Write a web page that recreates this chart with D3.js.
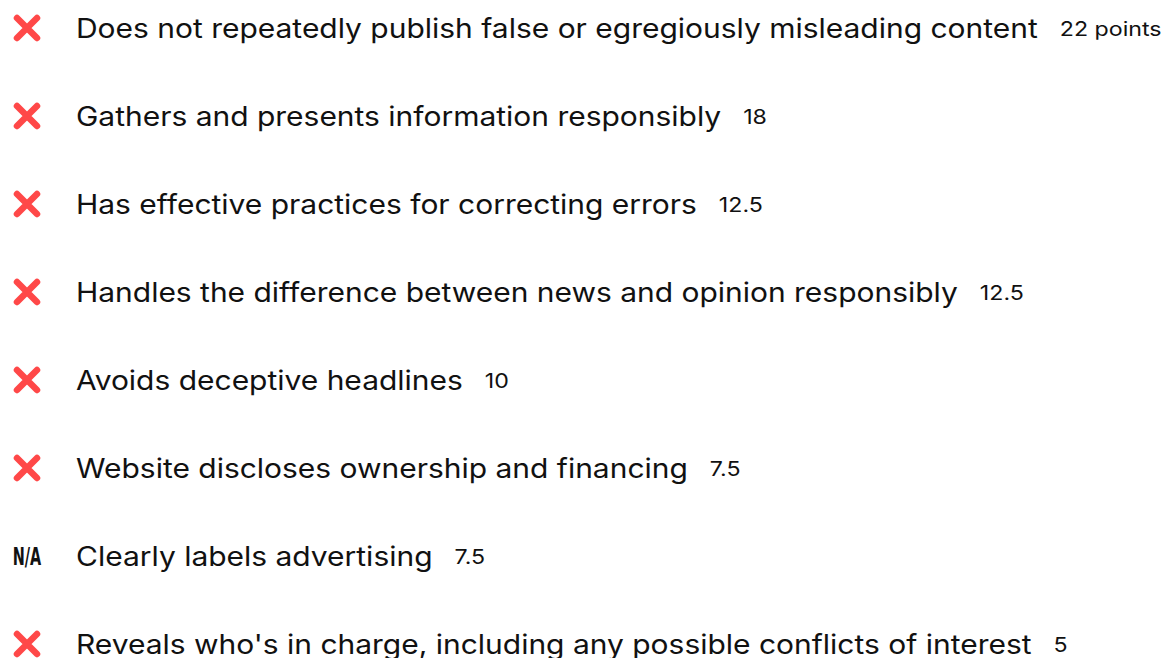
<!DOCTYPE html>
<html>
<head>
<meta charset="utf-8">
<script src="https://cdn.jsdelivr.net/npm/d3@7"></script>
<style>
  body { margin: 0; background: #fff; }
  svg { display: block; }
</style>
</head>
<body>
<svg width="1170" height="658"></svg>
<script>
var criteria = [
  "Does not repeatedly publish false or egregiously misleading content",
  "Gathers and presents information responsibly",
  "Has effective practices for correcting errors",
  "Handles the difference between news and opinion responsibly",
  "Avoids deceptive headlines",
  "Website discloses ownership and financing",
  "Clearly labels advertising",
  "Reveals who's in charge, including any possible conflicts of interest"
];
var points = [22, 18, 12.5, 12.5, 10, 7.5, 7.5, 5];
var ratings = ["fail", "fail", "fail", "fail", "fail", "fail", "na", "fail"];

var rows = criteria.map(function(c, i) {
  return { label: c, pts: points[i], rating: ratings[i], first: i === 0 };
});

var svg = d3.select("svg");

var y = d3.scaleBand()
    .domain(criteria)
    .range([-16, -16 + 88 * criteria.length])
    .padding(0);

var labelStretch = 1.11,
    ptsStretch = 1.16;

var g = svg.selectAll(".row")
    .data(rows)
  .enter().append("g")
    .attr("class", "row")
    .attr("transform", function(d) { return "translate(0," + (y(d.label) + y.bandwidth() / 2) + ")"; });

// red cross for failed criteria
g.filter(function(d) { return d.rating === "fail"; })
  .append("path")
    .attr("d", "M-10,-10L10,10M10,-10L-10,10")
    .attr("transform", "translate(27,0)")
    .attr("stroke", "#ff4848")
    .attr("stroke-width", 6.5)
    .attr("stroke-linecap", "round")
    .attr("fill", "none");

// condensed N/A mark
g.filter(function(d) { return d.rating === "na"; })
  .append("g")
    .attr("transform", "translate(27,0) scale(0.6,1)")
  .append("text")
    .attr("x", 0)
    .attr("y", 9)
    .attr("text-anchor", "middle")
    .attr("font-family", "'DejaVu Sans', sans-serif")
    .attr("font-weight", "bold")
    .attr("font-size", "24px")
    .attr("fill", "#111")
    .text("N/A");

var labels = g.append("g")
    .attr("transform", "translate(76,0) scale(" + labelStretch + ",1)")
  .append("text")
    .attr("x", 0)
    .attr("y", 9.5)
    .attr("font-family", "Inter, 'Open Sans', sans-serif")
    .attr("font-size", "27px")
    .attr("fill", "#111")
    .text(function(d) { return d.label; });

labels.each(function(d) {
  d.w = this.getComputedTextLength() * labelStretch;
});

g.append("g")
    .attr("transform", function(d) { return "translate(" + (76 + d.w + 22) + ",0) scale(" + ptsStretch + ",1)"; })
  .append("text")
    .attr("x", 0)
    .attr("y", 8)
    .attr("font-family", "Inter, 'Open Sans', sans-serif")
    .attr("font-size", "20px")
    .attr("fill", "#111")
    .text(function(d) { return d.first ? d.pts + " points" : d.pts; });
</script>
</body>
</html>
